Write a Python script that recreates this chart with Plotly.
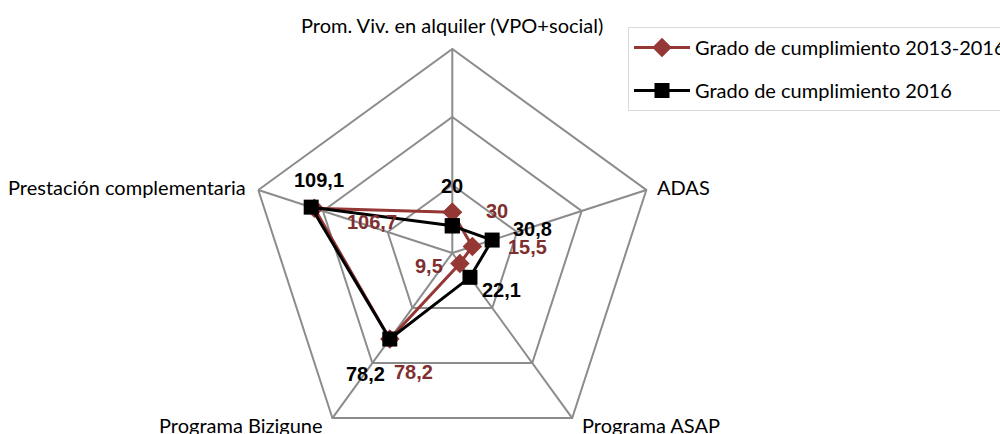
import math
import plotly.graph_objects as go

# Radar data: degree of compliance per programme
categories = [
    "Prom. Viv. en alquiler (VPO+social)",
    "ADAS",
    "Programa ASAP",
    "Programa Bizigune",
    "Prestación complementaria",
]
cumplimiento_2013_2016 = [30, 15.5, 9.5, 78.2, 106.7]
cumplimiento_2016 = [20, 30.8, 22.1, 78.2, 109.1]
series_names = ["Grado de cumplimiento 2013-2016", "Grado de cumplimiento 2016"]

RED = "#953735"
RED_TEXT = "#7f2f2f"
GRID = "#8c8c8c"
R_MAX = 150

W, H = 1000, 470
M_T, M_B = 49, 13
PLOT_H = H - M_T - M_B
RADIUS_PX = PLOT_H / 2
CX_PX = 452.3
DOM_X = [(CX_PX - RADIUS_PX) / W, (CX_PX + RADIUS_PX) / W]


def fmt(v):
    return f"{v:g}".replace(".", ",")


def to_paper(value, idx):
    """Project a value on spoke idx (clockwise from top) to paper coords."""
    a = math.radians(idx * 360 / len(categories))
    f = value / R_MAX
    x = (CX_PX + f * RADIUS_PX * math.sin(a)) / W
    y = 0.5 + f * 0.5 * math.cos(a)
    return x, y


fig = go.Figure()

closed = categories + categories[:1]
fig.add_trace(go.Scatterpolar(
    r=cumplimiento_2013_2016 + cumplimiento_2013_2016[:1],
    theta=closed,
    mode="lines+markers",
    name=series_names[0],
    legendgroup="a",
    line=dict(color=RED, width=3),
    marker=dict(symbol="diamond", size=15, color=RED),
))
fig.add_trace(go.Scatterpolar(
    r=cumplimiento_2016 + cumplimiento_2016[:1],
    theta=closed,
    mode="lines+markers",
    name=series_names[1],
    legendgroup="b",
    line=dict(color="#000000", width=3),
    marker=dict(symbol="square", size=15, color="#000000"),
))

# Data label offsets (px) per spoke
red_shift = [(45, 1), (55, -1), (-31, -3), (24, -33), (58, -14)]
black_shift = [(0, 40), (40, 11), (32, -13), (-24, -35), (8, 27)]

annotations = []
for vals, shifts, color in [
    (cumplimiento_2013_2016, red_shift, RED_TEXT),
    (cumplimiento_2016, black_shift, "#000000"),
]:
    for i, v in enumerate(vals):
        x, y = to_paper(v, i)
        annotations.append(dict(
            x=x, y=y, xref="paper", yref="paper",
            text=fmt(v), showarrow=False,
            xshift=shifts[i][0], yshift=shifts[i][1],
            xanchor="center", yanchor="middle",
            font=dict(family="Liberation Sans", size=20, color=color, weight="bold"),
        ))

# Category names placed beside the outer vertices
cat_place = [
    ("center", 0, 24),
    ("left", 9, 3),
    ("left", 8, -7),
    ("right", -7, -7),
    ("right", -10, 3),
]
for i, name in enumerate(categories):
    x, y = to_paper(R_MAX, i)
    anchor, dx, dy = cat_place[i]
    annotations.append(dict(
        x=x, y=y, xref="paper", yref="paper",
        text=name, showarrow=False,
        xshift=dx, yshift=dy, xanchor=anchor, yanchor="middle",
        font=dict(family="Lato", size=20, color="#000000"),
    ))

fig.update_layout(
    width=W, height=H,
    margin=dict(l=0, r=0, t=M_T, b=M_B, autoexpand=False),
    paper_bgcolor="white",
    plot_bgcolor="white",
    font=dict(family="Lato", size=20, color="#000000"),
    polar=dict(
        domain=dict(x=DOM_X, y=[0, 1]),
        bgcolor="white",
        gridshape="linear",
        radialaxis=dict(
            range=[0, R_MAX], dtick=50, showticklabels=False, ticks="",
            showline=False, gridcolor=GRID, gridwidth=2,
        ),
        angularaxis=dict(
            direction="clockwise", rotation=90,
            showline=True, linecolor=GRID, linewidth=2,
            gridcolor=GRID, gridwidth=2, ticks="", showticklabels=False,
        ),
    ),
    showlegend=True,
    legend=dict(
        x=628 / W, xanchor="left", xref="paper",
        y=(H - M_B - 27) / PLOT_H, yanchor="top", yref="paper",
        bordercolor="#d9d9d9", borderwidth=1, bgcolor="white",
        font=dict(family="Lato", size=20, color="#000000"),
        tracegroupgap=14, itemwidth=56,
    ),
    annotations=annotations,
)

fig.write_html(
    "out.html",
    post_script="document.documentElement.style.overflow='hidden';document.body.style.overflow='hidden';",
)
